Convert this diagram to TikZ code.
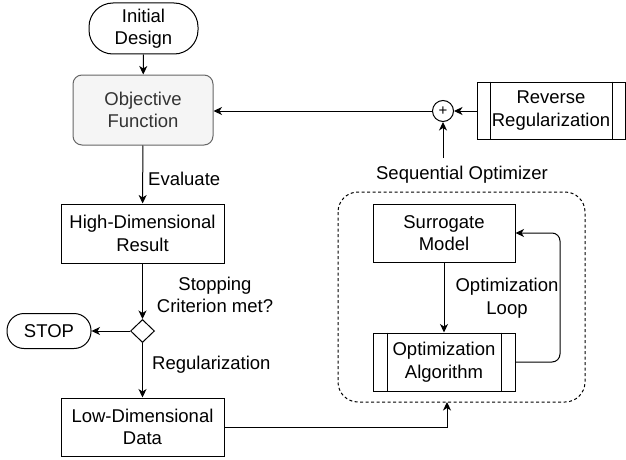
\documentclass[tikz,border=0pt]{standalone}
\usepackage{fontspec}
\setmainfont{Liberation Sans}
\usetikzlibrary{arrows.meta,shapes.geometric}
\definecolor{objfill}{HTML}{F5F5F5}
\definecolor{objline}{HTML}{666666}
\definecolor{objtext}{HTML}{333333}
\begin{document}
\begin{tikzpicture}[x=1pt,y=-1pt,
  every node/.style={font=\fontsize{18.5}{22.5}\selectfont, align=center, inner sep=0pt},
  box/.style={draw, line width=1pt, rectangle},
  arr/.style={line width=1pt, -{Stealth[length=8.5pt,width=8pt,inset=2.5pt]}},
  ln/.style={line width=1pt},
  lbl/.style={}
]
\useasboundingbox (0,0) rectangle (626,460);

% left column
\node[box, rounded corners=24, minimum width=109, minimum height=51] (init) at (143.5,28.5) {Initial\\Design};
\node[box, rounded corners=9, minimum width=140, minimum height=70, fill=objfill, draw=objline, text=objtext] (obj) at (143,110) {Objective\\Function};
\node[box, minimum width=163, minimum height=59] (hdr) at (142.5,233.5) {High-Dimensional\\Result};
\node[draw, line width=1pt, diamond, minimum width=24, minimum height=23, aspect=1] (dec) at (142.5,331) {};
\node[box, rounded corners=17, minimum width=84, minimum height=35] (stop) at (49,331) {STOP};
\node[box, minimum width=163, minimum height=58] (ldd) at (142.5,427) {Low-Dimensional\\Data};

% right part
\node[draw, line width=1pt, circle, minimum size=21] (plus) at (443,111) {\fontsize{15}{15}\selectfont +};
\node[box, minimum width=148, minimum height=57] (rev) at (551,110.5) {Reverse\\Regularization};
\draw[ln] ([xshift=14]rev.north west) -- ([xshift=14]rev.south west);
\draw[ln] ([xshift=-13]rev.north east) -- ([xshift=-13]rev.south east);

\node (seq) at (462,175) {Sequential Optimizer};
\coordinate (seqtop) at (443,158);

\draw[line width=1pt, dashed, dash pattern=on 3pt off 2.5pt, rounded corners=20] (338,192) rectangle (585,402);
\coordinate (contb) at (447,402);

\node[box, minimum width=142, minimum height=58] (sur) at (444,233) {Surrogate\\Model};
\node[box, minimum width=142, minimum height=58] (alg) at (444,362) {Optimization\\Algorithm};
\draw[ln] ([xshift=15]alg.north west) -- ([xshift=15]alg.south west);
\draw[ln] ([xshift=-14]alg.north east) -- ([xshift=-14]alg.south east);
\coordinate (loopr) at (560,233);

% labels
\node[anchor=west] (eval) at (148,179) {Evaluate};
\node (stopc) at (215,295) {Stopping\\Criterion met?};
\node[anchor=west] (reg) at (152,365) {Regularization};
\node (oloop) at (507,298) {Optimization\\Loop};

% connectors
\draw[arr] (init) -- (obj);
\draw[arr] (obj) -- (hdr);
\draw[arr] (hdr) -- (dec);
\draw[arr] (dec) -- (stop);
\draw[arr] (dec) -- (ldd);
\draw[arr] (plus) -- (obj.east |- plus);
\draw[arr] (rev.west |- plus) -- (plus);
\draw[arr] (seqtop) -- (plus);
\draw[arr] (sur) -- (alg);
\draw[arr, rounded corners=8] (alg.east) -| (loopr) -- (sur.east);
\draw[arr] (ldd.east) -| (contb);
\end{tikzpicture}
\end{document}
